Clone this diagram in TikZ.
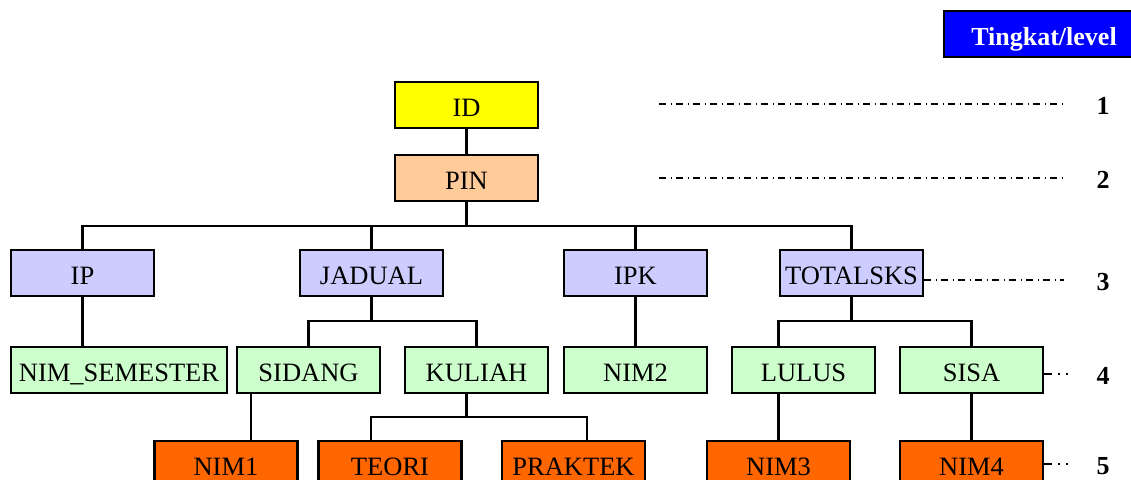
\documentclass[tikz,border=0pt]{standalone}
\usepackage{fontspec}
\setmainfont{Liberation Serif}
\definecolor{kuning}{RGB}{255,255,0}
\definecolor{peach}{RGB}{255,204,153}
\definecolor{lavender}{RGB}{204,204,255}
\definecolor{mint}{RGB}{204,255,204}
\definecolor{jingga}{RGB}{255,102,0}
\definecolor{biru}{RGB}{0,0,255}
\begin{document}
\begin{tikzpicture}[x=1pt, y=-1pt,
    box/.style={draw, line width=2.4pt, minimum width=143pt, minimum height=46pt,
        inner xsep=2pt, inner ysep=0pt, text height=25pt, text depth=2pt,
        font=\fontsize{26.5}{30}\selectfont},
    link/.style={line width=2.2pt},
    levelline/.style={line width=1.6pt, dash pattern=on 7pt off 4.5pt on 1.5pt off 4pt},
    shortline/.style={line width=1.6pt, dash pattern=on 8pt off 6pt on 2pt off 6pt on 2pt off 20pt},
    lvlnum/.style={font=\fontsize{26}{30}\selectfont\bfseries}]
    \useasboundingbox (0,0) rectangle (1131,479);

    % Legend box
    \node[box, fill=biru, text=white, minimum width=200pt,
        font=\fontsize{26}{30}\selectfont\bfseries] (tingkat) at (1044,34) {Tingkat/level};

    % Level 1 and 2
    \node[box, fill=kuning] (id) at (466.5,105) {ID};
    \node[box, fill=peach] (pin) at (466.5,178) {PIN};

    % Level 3
    \node[box, fill=lavender] (ip) at (82.5,273) {IP};
    \node[box, fill=lavender] (jadual) at (371.5,273) {JADUAL};
    \node[box, fill=lavender] (ipk) at (635.5,273) {IPK};
    \node[box, fill=lavender] (totalsks) at (851.5,273) {TOTALSKS};

    % Level 4
    \node[box, fill=mint, minimum width=216pt] (nimsem) at (119,370) {NIM\_SEMESTER};
    \node[box, fill=mint] (sidang) at (308.5,370) {SIDANG};
    \node[box, fill=mint] (kuliah) at (476.5,370) {KULIAH};
    \node[box, fill=mint] (nimdua) at (635.5,370) {NIM2};
    \node[box, fill=mint] (lulus) at (803.5,370) {LULUS};
    \node[box, fill=mint] (sisa) at (971.5,370) {SISA};

    % Level 5
    \node[box, fill=jingga] (nimsatu) at (226,464) {NIM1};
    \node[box, fill=jingga] (teori) at (390,464) {TEORI};
    \node[box, fill=jingga] (praktek) at (573.5,464) {PRAKTEK};
    \node[box, fill=jingga] (nimtiga) at (778.5,464) {NIM3};
    \node[box, fill=jingga] (nimempat) at (971.5,464) {NIM4};

    % Tree connectors
    \coordinate (busa) at (466.5,226);
    \coordinate (busb) at (371.5,321);
    \coordinate (busc) at (851.5,321);
    \coordinate (busd) at (466.5,417);
    \draw[link] (id) -- (pin);
    \draw[link] (pin.south) -- (busa);
    \draw[link] (ip.north) |- (busa) -| (totalsks.north);
    \draw[link] (jadual.north) -- (jadual.north |- busa);
    \draw[link] (ipk.north) -- (ipk.north |- busa);
    \draw[link] (ip.south) -- (ip.south |- nimsem.north);
    \draw[link] (jadual.south) -- (busb);
    \draw[link] (sidang.north) |- (busb) -| (kuliah.north);
    \draw[link] (ipk) -- (nimdua);
    \draw[link] (totalsks.south) -- (busc);
    \draw[link] (nimtiga.north |- lulus.north) |- (busc) -| (sisa.north);
    \draw[link] ([xshift=25]nimsatu.north) -- ([xshift=25]nimsatu.north |- sidang.south);
    \draw[link] (busd |- kuliah.south) -- (busd);
    \draw[link] ([xshift=-19]teori.north) |- (busd) -| ([xshift=13.5]praktek.north);
    \draw[link] (nimtiga.north) -- (nimtiga.north |- lulus.south);
    \draw[link] (sisa) -- (nimempat);

    % Level markers
    \coordinate (garissatu) at (659,104);
    \coordinate (garisdua) at (659,178);
    \draw[levelline] (garissatu) -- ++(404,0);
    \draw[levelline] (garisdua) -- ++(404,0);
    \draw[levelline] ([yshift=-7]totalsks.east) -- ++(140,0);
    \draw[shortline] ([yshift=-4]sisa.east) -- ++(25,0);
    \draw[shortline] (nimempat.east) -- ++(25,0);
    \node[lvlnum] (nomorsatu) at (1103,106) {1};
    \node[lvlnum] (nomordua) at (1103,180) {2};
    \node[lvlnum] (nomortiga) at (1103,282) {3};
    \node[lvlnum] (nomorempat) at (1103,376) {4};
    \node[lvlnum] (nomorlima) at (1103,466) {5};
\end{tikzpicture}
\end{document}
